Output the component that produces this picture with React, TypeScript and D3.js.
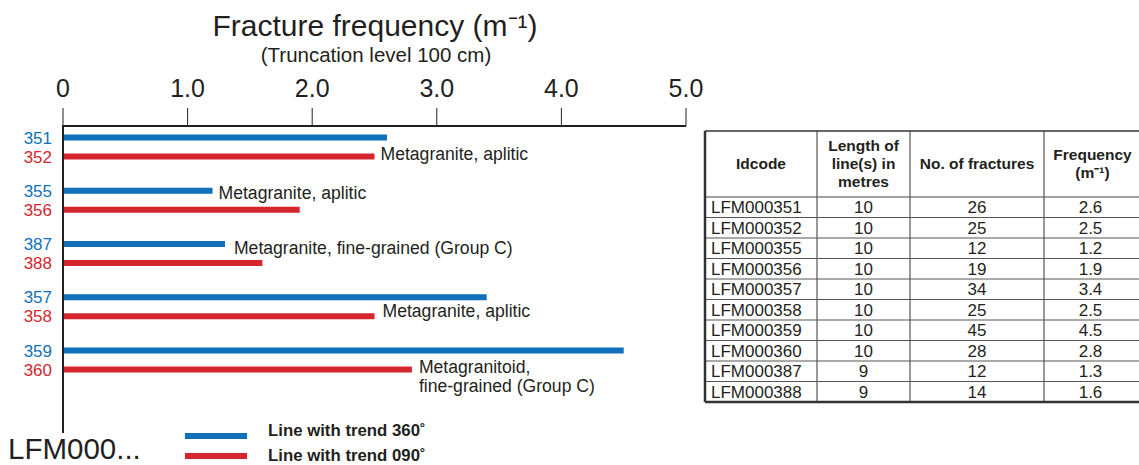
import React from "react";
import * as d3 from "d3";

const blueIds = ["351", "355", "387", "357", "359"];
const blueValues = [2.6, 1.2, 1.3, 3.4, 4.5];
const redIds = ["352", "356", "388", "358", "360"];
const redValues = [2.5, 1.9, 1.6, 2.5, 2.8];
const rockTypes = [
  ["Metagranite, aplitic"],
  ["Metagranite, aplitic"],
  ["Metagranite, fine-grained (Group C)"],
  ["Metagranite, aplitic"],
  ["Metagranitoid,", "fine-grained (Group C)"],
];
const xTicks = [0, 1, 2, 3, 4, 5];

const tableHeaders = [
  ["Idcode"],
  ["Length of", "line(s) in", "metres"],
  ["No. of fractures"],
  ["Frequency", "(m\u207B\u00B9)"],
];
const tableIds = ["LFM000351", "LFM000352", "LFM000355", "LFM000356", "LFM000357", "LFM000358", "LFM000359", "LFM000360", "LFM000387", "LFM000388"];
const tableLengths = [10, 10, 10, 10, 10, 10, 10, 10, 9, 9];
const tableFractures = [26, 25, 12, 19, 34, 25, 45, 28, 12, 14];
const tableFreqs = ["2.6", "2.5", "1.2", "1.9", "3.4", "2.5", "4.5", "2.8", "1.3", "1.6"];

const legendLabels = ["Line with trend 360\u02DA", "Line with trend 090\u02DA"];

// layout for annotations: anchor bar, x offset, y offset relative to blue row
const annLayout = [
  { anchor: "red", dx: 6, dy: 16 },
  { anchor: "blue", dx: 6, dy: 2 },
  { anchor: "blue", dx: 9, dy: 4 },
  { anchor: "red", dx: 8, dy: 14 },
  { anchor: "red", dx: 7, dy: 16 },
];

const BLUE = "#1170bb";
const RED = "#d5262e";
const FONT = "'Liberation Sans', Arial, Helvetica, sans-serif";

export default function App() {
  const x = d3.scaleLinear().domain([0, 5]).range([63, 686]);
  const yBlue = d3.scalePoint<number>().domain(d3.range(blueIds.length)).range([137.5, 350.5]);
  const redOffset = 19;
  const axisY = 126;
  const barH = 6;

  const colX = [705, 817, 910, 1044, 1141];
  const tableTop = 131;
  const headerBottom = 197;
  const rowH = 20.5;
  const rowY = d3.scaleLinear().domain([0, 1]).range([headerBottom, headerBottom + rowH]);
  const tableBottom = rowY(tableIds.length);

  return (
    <svg width={1139} height={465} style={{ position: "absolute", left: 0, top: 0 }} fontFamily={FONT}>
      <rect width={1139} height={465} fill="#fff" />
      {/* Titles */}
      <text x={375} y={36} fontSize={30} textAnchor="middle" fill="#231f20">
        Fracture frequency (m{"\u207B\u00B9"})
      </text>
      <text x={376} y={62} fontSize={20.5} textAnchor="middle" fill="#231f20">
        (Truncation level 100 cm)
      </text>
      {/* Axis */}
      {xTicks.map((t) => (
        <g key={t}>
          <line x1={x(t)} x2={x(t)} y1={108} y2={axisY} stroke="#231f20" strokeWidth={1} />
          <text x={x(t)} y={97} fontSize={25} textAnchor="middle" fill="#231f20">
            {t === 0 ? "0" : d3.format(".1f")(t)}
          </text>
        </g>
      ))}
      <line x1={x(0)} x2={x(5)} y1={axisY} y2={axisY} stroke="#231f20" strokeWidth={2} />
      <line x1={x(0)} x2={x(0)} y1={axisY - 1} y2={433} stroke="#231f20" strokeWidth={2} />
      {/* Bars */}
      {blueIds.map((id, i) => {
        const yb = yBlue(i)!;
        const yr = yb + redOffset;
        const L = annLayout[i];
        const ax = L.anchor === "red" ? x(redValues[i]) : x(blueValues[i]);
        return (
          <g key={id}>
            <rect x={x(0) + 1} y={yb - barH / 2} width={x(blueValues[i]) - x(0) - 1} height={barH} fill={BLUE} />
            <rect x={x(0) + 1} y={yr - barH / 2} width={x(redValues[i]) - x(0) - 1} height={barH} fill={RED} />
            <text x={52} y={yb + 6} fontSize={17} textAnchor="end" fill={BLUE}>{id}</text>
            <text x={52} y={yr + 6} fontSize={17} textAnchor="end" fill={RED}>{redIds[i]}</text>
            {rockTypes[i].map((ln, j) => (
              <text key={j} x={ax + L.dx} y={yb + L.dy + 6 + j * 19} fontSize={17.6} fill="#231f20">{ln}</text>
            ))}
          </g>
        );
      })}
      {/* Legend */}
      <rect x={185} y={433} width={62} height={6} fill={BLUE} />
      <rect x={185} y={453} width={62} height={6} fill={RED} />
      <text x={268} y={436} fontSize={16.8} fontWeight="bold" fill="#231f20">{legendLabels[0]}</text>
      <text x={268} y={461} fontSize={16.8} fontWeight="bold" fill="#231f20">{legendLabels[1]}</text>
      <text x={8} y={459} fontSize={29.5} fill="#231f20">LFM000...</text>
      {/* Table */}
      <g>
        {tableHeaders.map((lines, c) => {
          const cx = (colX[c] + colX[c + 1]) / 2;
          const mid = (tableTop + headerBottom) / 2;
          const lh = 18;
          return lines.map((ln, j) => (
            <text key={c + "-" + j} x={cx} y={mid + (j - (lines.length - 1) / 2) * lh + 5} fontSize={15.5} fontWeight="bold" textAnchor="middle" fill="#231f20">
              {ln}
            </text>
          ));
        })}
        {tableIds.map((id, r) => {
          const ty = rowY(r) + rowH / 2 + 6;
          return (
            <g key={id}>
              <text x={colX[0] + 6} y={ty} fontSize={17} fill="#231f20">{id}</text>
              <text x={(colX[1] + colX[2]) / 2} y={ty} fontSize={17} textAnchor="middle" fill="#231f20">{tableLengths[r]}</text>
              <text x={(colX[2] + colX[3]) / 2} y={ty} fontSize={17} textAnchor="middle" fill="#231f20">{tableFractures[r]}</text>
              <text x={(colX[3] + colX[4]) / 2 - 2} y={ty} fontSize={17} textAnchor="middle" fill="#231f20">{tableFreqs[r]}</text>
            </g>
          );
        })}
        {d3.range(1, tableIds.length).map((r) => (
          <line key={r} x1={colX[0]} x2={colX[4]} y1={rowY(r)} y2={rowY(r)} stroke="#555" strokeWidth={1} />
        ))}
        <line x1={colX[0]} x2={colX[4]} y1={headerBottom} y2={headerBottom} stroke="#444" strokeWidth={1.2} />
        {[1, 2, 3].map((c) => (
          <line key={c} x1={colX[c]} x2={colX[c]} y1={tableTop} y2={tableBottom} stroke="#555" strokeWidth={1.2} />
        ))}
        <line x1={colX[0]} x2={colX[4]} y1={tableTop} y2={tableTop} stroke="#333" strokeWidth={1.5} />
        <line x1={colX[0]} x2={colX[4]} y1={tableBottom} y2={tableBottom} stroke="#333" strokeWidth={2.5} />
        <line x1={colX[0]} x2={colX[0]} y1={tableTop} y2={tableBottom} stroke="#333" strokeWidth={2.5} />
      </g>
    </svg>
  );
}
